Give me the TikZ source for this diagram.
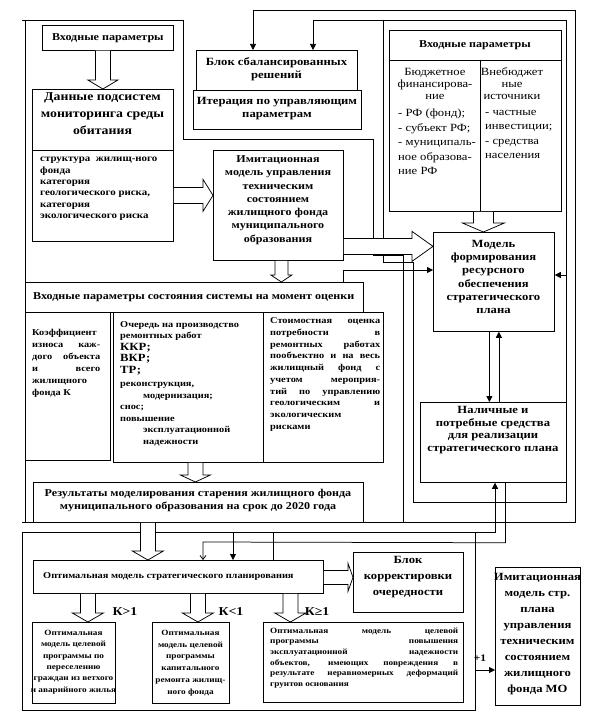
\documentclass[tikz,border=0pt]{standalone}
\usepackage{fontspec}
\setmainfont{Liberation Serif}
\newfontfamily\tf{Liberation Serif}[FakeStretch=1.15]
\usetikzlibrary{calc,arrows.meta}
\newcommand\fsz[2]{\fontsize{#1}{#2}\selectfont}
\newcommand\mkbox[5]{\node[bx, minimum width={(#4)-(#2)}, minimum height={(#5)-(#3)}] (#1) at (#2,#3) {};}
\newcommand\hdown[5]{\draw[ln,fill=white] let \p1=#1, \p2=#2 in (\x1-#3pt,\y1) -- (\x1-#3pt,\y2+#5pt) -- (\x1-#4pt,\y2+#5pt) -- (\x1,\y2) -- (\x1+#4pt,\y2+#5pt) -- (\x1+#3pt,\y2+#5pt) -- (\x1+#3pt,\y1);}
\newcommand\hright[5]{\draw[ln,fill=white] let \p1=#1, \p2=#2 in (\x1,\y1+#3pt) -- (\x2-#5pt,\y1+#3pt) -- (\x2-#5pt,\y1+#4pt) -- (\x2,\y1) -- (\x2-#5pt,\y1-#4pt) -- (\x2-#5pt,\y1-#3pt) -- (\x1,\y1-#3pt);}
\tikzset{
 ln/.style={line width=0.75pt},
 bx/.style={draw, line width=0.75pt, inner sep=0pt, anchor=north west},
 tx/.style={inner sep=0pt, align=center, font=\tf\bfseries\fsz{11}{13}},
 fa/.style={ln, -{Triangle[length=6pt,width=6pt]}},
 sa/.style={ln, -{Straight Barb[length=4pt,width=6pt]}},
}
\begin{document}
\begin{tikzpicture}[x=1pt,y=-1pt]
\useasboundingbox (0,0) rectangle (601,714);
% ---------- boxes
\mkbox{in1}{42}{25}{173}{50}
\mkbox{dat}{32}{89}{173}{241}
\draw[ln] ($(dat.north west)+(0,61)$) -- ($(dat.north east)+(0,61)$);
\mkbox{blk}{196}{50}{357}{90}
\mkbox{itr}{193}{90}{361}{129}
\mkbox{imi}{213}{150}{343}{260}
\mkbox{rin}{389}{30}{561}{211}
\draw[ln] ($(rin.north west)+(0,30)$) -- ($(rin.north east)+(0,30)$);
\draw[ln] ($(rin.north west)+(91,30)$) -- ($(rin.south west)+(91,0)$);
\mkbox{mfr}{433}{232}{554}{331}
\mkbox{nal}{420}{402}{566}{482}
\mkbox{sst}{25}{282}{363}{312}
\mkbox{koe}{25}{312}{110}{460}
\mkbox{och}{113}{312}{383}{462}
\draw[ln] ($(och.north west)+(150,0)$) -- ($(och.south west)+(150,0)$);
\mkbox{res}{33}{482}{363}{522}
\mkbox{opt}{33}{560}{323}{593}
\mkbox{kor}{353}{552}{463}{612}
\mkbox{pr1}{32}{622}{115}{703}
\mkbox{pr2}{152}{622}{229}{703}
\mkbox{pr3}{263}{622}{463}{702}
\mkbox{ims}{495}{567}{580}{705}
% ---------- frame A and feedback lines
\draw[ln] (22,20) -- (183,20) -- (183,139) -- (373,139) -- (373,255) -- (403,255) -- (403,522);
\draw[ln] (25,20) -- (25,522);
\draw[ln] (22,522) -- (575,522) -- (575,10) -- (253,10) coordinate (t1);
\draw[fa] (t1) -- (t1 |- blk.north);
\draw[ln] (383,20) -- (383,262) -- (413,262) -- (413,502) -- (566,502) -- (566,20) -- (313,20) coordinate (t2);
\draw[fa] (t2) -- (t2 |- blk.north);
\coordinate (t3) at (566,275);
\draw[fa] (t3) -- (t3 -| mfr.east);
\draw[fa] ($(sst.north west)+(318,0)$) -- ++(0,-12) coordinate (t4) -- (t4 -| mfr.west);
\draw[fa] ([xshift=-4.5pt]mfr.south) -- ([xshift=-4.5pt]mfr.south |- nal.north);
\draw[fa] ([xshift=5.5pt]nal.north |- nal.north) -- ([xshift=5.5pt]nal.north |- mfr.south);
% ---------- frame B
\draw[ln] (22,532) -- (22,710) -- (475,710) -- (475,532);
\coordinate (t5) at (495,532);
\draw[fa] (22,532) -- (t5) -- (t5 |- nal.south);
\draw[sa] ([xshift=12pt]nal.south) -- ++(0,60) -- (203,542) coordinate (t6) -- (t6 |- opt.north);
\coordinate (t7) at (233,532);
\draw[fa] (t7) -- (t7 |- opt.north);
\coordinate (t8) at (273,532);
\draw[ln] (t8) -- (t8 |- opt.north);
\coordinate (t9) at (475,670);
\draw[fa] (t9) -- (t9 -| ims.west);
% ---------- hollow arrows
\hdown{([xshift=-5pt]in1.south)}{(dat.north)}{7.5}{15}{9}
\hright{([yshift=-30pt]dat.east)}{(imi.west)}{8}{16}{10}
\hdown{([xshift=3pt]imi.south)}{(sst.north)}{6.5}{10.5}{7}
\hright{([yshift=-41pt]imi.east)}{(mfr.west)}{8}{15}{21}
\hdown{([xshift=8pt]rin.south)}{(mfr.north)}{10}{21}{9}
\hdown{([xshift=-53pt]och.south)}{(res.north)}{7.5}{15}{7}
\hdown{([xshift=-50.5pt]res.south)}{(opt.north)}{7.5}{15.5}{9}
\hright{([yshift=-0.5pt]opt.east)}{(kor.west)}{7}{14}{5}
\hdown{([xshift=-90.5pt]opt.south)}{(pr1.north)}{7.5}{15.5}{9}
\hdown{([xshift=19.5pt]opt.south)}{(pr2.north)}{7.5}{15.5}{9}
\hdown{([xshift=112pt]opt.south)}{(pr3.north)}{7.5}{15.5}{9}
% ---------- texts
\node[tx, font=\tf\bfseries\fsz{10.5}{12}] (tin1) at (in1) {Входные параметры};
\node[tx, font=\tf\bfseries\fsz{12}{17}] (tdat) at (102.5,114) {Данные подсистем\\мониторинга среды\\обитания};
\node[tx, align=left, anchor=west, font=\tf\bfseries\fsz{9.5}{11.3}] (tstr) at (40,189) {структура\ \ жилищ-ного\\фонда\\категория\\геологического риска,\\категория\\экологического риска};
\node[tx] (tblk) at (276.5,69) {Блок сбалансированных\\решений};
\node[tx] (titr) at (277,109) {Итерация по управляющим\\параметрам};
\node[tx, font=\tf\bfseries\fsz{10.5}{13.3}] (timi) at (278,200) {Имитационная\\модель управления\\техническим\\состоянием\\жилищного фонда\\муниципального\\образования};
\node[tx, font=\tf\bfseries\fsz{10.5}{12}] (trin) at (475,45) {Входные параметры};
\node[tx, font=\tf\fsz{11}{12}] (tbud1) at (435,84) {Бюджетное\\финансирова-\\ние};
\node[tx, align=left, anchor=west, font=\tf\fsz{11}{14.5}] (tbud2) at (398,142) {- РФ (фонд);\\- субъект РФ;\\- муниципаль-\\ное образова-\\ние РФ};
\node[tx, font=\tf\fsz{11}{12}] (tvb1) at (512,84) {Внебюджет\\ные\\источники};
\node[tx, align=left, anchor=west, font=\tf\fsz{11}{14.3}] (tvb2) at (485,134.5) {- частные\\инвестиции;\\- средства\\населения};
\node[tx, font=\tf\bfseries\fsz{11}{13.3}] (tmfr) at (493.5,277) {Модель\\формирования\\ресурсного\\обеспечения\\стратегического\\плана};
\node[tx, font=\tf\bfseries\fsz{11}{12.5}] (tnal) at (493,430) {Наличные и\\потребные средства\\для реализации\\стратегического плана};
\node[tx, anchor=west, font=\tf\bfseries\fsz{10.5}{12}] (tsst) at (33,297) {Входные параметры состояния системы на момент оценки};
\node[tx, align=left, anchor=west, font=\tf\bfseries\fsz{9}{12}] (tkoe) at (32,363) {Коэффициент\\\makebox[68pt][s]{износа каж-}\\\makebox[68pt][s]{дого объекта}\\\makebox[68pt][s]{и всего}\\жилищного\\фонда К};
\node[tx, align=left, anchor=west, font=\tf\bfseries\fsz{9}{11.5}] (toch) at (120,383.5) {Очередь на производство\\ремонтных работ\\{\fsz{11}{12}ККР;}\\{\fsz{11}{12}ВКР;}\\{\fsz{11}{12}ТР;}\\[2pt]реконструкция,\\\hspace*{23pt}модернизация;\\снос;\\повышение\\\hspace*{23pt}эксплуатационной\\\hspace*{23pt}надежности};
\node[tx, align=left, anchor=west, font=\tf\bfseries\fsz{9}{11.7}] (tsto) at (270,374.5) {\makebox[110pt][s]{Стоимостная оценка}\\\makebox[110pt][s]{потребности в}\\\makebox[110pt][s]{ремонтных работах}\\\makebox[110pt][s]{пообъектно и на весь}\\\makebox[110pt][s]{жилищный фонд с}\\\makebox[110pt][s]{учетом мероприя-}\\\makebox[110pt][s]{тий по управлению}\\\makebox[110pt][s]{геологическим и}\\экологическим\\рисками};
\node[tx, font=\tf\bfseries\fsz{10.5}{13}] (tres) at (198,500) {Результаты моделирования старения жилищного фонда\\муниципального образования на срок до 2020 года};
\node[tx, anchor=west, font=\tf\bfseries\fsz{9}{11}] (topt) at (43,576) {Оптимальная модель стратегического планирования};
\node[tx, font=\tf\bfseries\fsz{11}{16}] (tkor) at (408,577) {Блок\\корректировки\\очередности};
\node[tx, font=\tf\bfseries\fsz{12}{14}] (tk1) at (125,612) {К>1};
\node[tx, font=\tf\bfseries\fsz{12}{14}] (tk2) at (231,612) {К<1};
\node[tx, font=\tf\bfseries\fsz{12}{14}] (tk3) at (317,612) {К≥1};
\node[tx, font=\tf\bfseries\fsz{8}{11.4}] (tpr1) at (73.5,662) {Оптимальная\\модель целевой\\программы по\\переселению\\граждан из ветхого\\и аварийного жилья};
\node[tx, font=\tf\bfseries\fsz{8}{11.8}] (tpr2) at (190.5,663) {Оптимальная\\модель целевой\\программы\\капитального\\ремонта жилищ-\\ного фонда};
\node[tx, align=left, anchor=west, font=\tf\bfseries\fsz{8}{10.6}] (tpr3) at (270,658) {\makebox[188pt][s]{Оптимальная модель целевой}\\\makebox[188pt][s]{программы повышения}\\\makebox[188pt][s]{эксплуатационной надежности}\\\makebox[188pt][s]{объектов, имеющих повреждения в}\\\makebox[188pt][s]{результате неравномерных деформаций}\\грунтов основания};
\node[tx, font=\tf\bfseries\fsz{10}{12}] (tp1) at (480,658) {+1};
\node[tx, font=\tf\bfseries\fsz{11}{16}] (tims) at (537.5,634) {Имитационная\\модель стр.\\плана\\управления\\техническим\\состоянием\\жилищного\\фонда МО};
\end{tikzpicture}
\end{document}
